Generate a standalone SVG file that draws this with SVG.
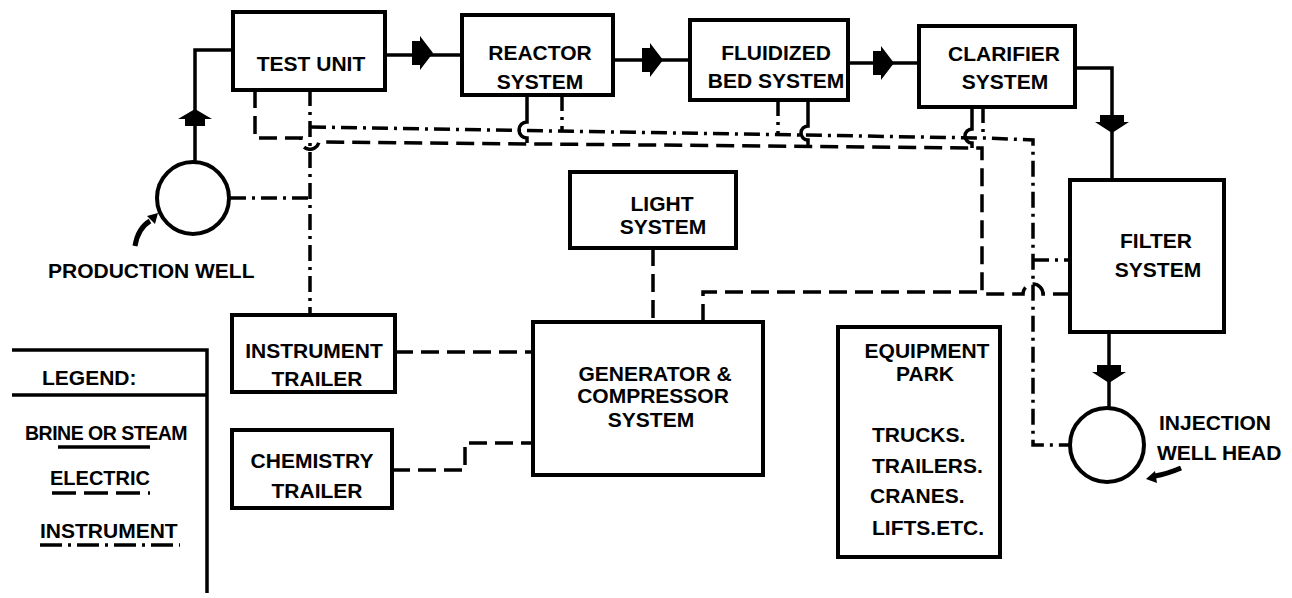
<svg xmlns="http://www.w3.org/2000/svg" xmlns:xlink="http://www.w3.org/1999/xlink" width="1292" height="598" viewBox="0 0 1292 598">
<style>
.box{fill:#fff;stroke:#000;stroke-width:4}
.well{fill:#fff;stroke:#000;stroke-width:4}
.flow{fill:none;stroke:#000;stroke-width:3.5}
.elec{fill:none;stroke:#000;stroke-width:3.5;stroke-dasharray:18 8}
.inst{fill:none;stroke:#000;stroke-width:3.5;stroke-dasharray:16 6 3 6}
.solid{fill:none;stroke:#000;stroke-width:3.5}
.t{font-family:"Liberation Sans",Arial,sans-serif;font-weight:bold;font-size:21px;text-anchor:middle;fill:#000}
.tl{font-family:"Liberation Sans",Arial,sans-serif;font-weight:bold;font-size:21px;text-anchor:start;fill:#000}
</style>
<defs>
<path id="arrR" d="M-8,-12 H0 V-17 L13,0 L0,17 V12 H-8 Z" fill="#000"/>
<path id="arrD" d="M-12,-7 H12 V0 H17 L0,11 L-17,0 H-12 Z" fill="#000"/>
<path id="arrU" d="M-10,8 H10 V1 H17 L0,-9 L-17,1 H-10 Z" fill="#000"/>
</defs>
<rect width="1292" height="598" fill="#fff"/>

<g id="connectors">
  <!-- brine / steam flow -->
  <path class="flow" d="M195,162 V50 H233"/>
  <path class="flow" d="M385,55 H462"/>
  <path class="flow" d="M613,60 H690"/>
  <path class="flow" d="M848,63 H919"/>
  <path class="flow" d="M1075,68 H1112 V180"/>
  <path class="flow" d="M1109,332 V408"/>
  <use xlink:href="#arrU" transform="translate(195,118)"/>
  <use xlink:href="#arrR" transform="translate(420,53)"/>
  <use xlink:href="#arrR" transform="translate(650,60)"/>
  <use xlink:href="#arrR" transform="translate(881,63)"/>
  <use xlink:href="#arrD" transform="translate(1112,122)"/>
  <use xlink:href="#arrD" transform="translate(1109,372)"/>

  <!-- electric -->
  <path class="elec" d="M255,90 V138 H301 A9,9 0 0 0 319,142 L982,148 V294 H1023 A10,10 0 0 1 1043,294 H1070"/>
  <path class="solid" d="M527,95 V122 A8,8 0 0 0 527,138 V143"/>
  <path class="solid" d="M808,100 V126 A7,7 0 0 0 808,140 V147"/>
  <path class="solid" d="M972,107 V129 A7,7 0 0 0 972,143 V148"/>
  <path class="elec" d="M703,322 V292 H982"/>
  <path class="elec" d="M653,248 V322"/>
  <path class="elec" d="M395,352 H533"/>
  <path class="elec" d="M392,470 H465 V443 H533"/>

  <!-- instrument -->
  <path class="inst" d="M310,90 V315"/>
  <path class="inst" d="M230,198 H310"/>
  <path class="inst" d="M310,127 L983,138 L1033,140 V445 H1070"/>
  <path class="inst" d="M1033,260 H1070"/>
  <path class="inst" d="M562,95 V130"/>
  <path class="inst" d="M778,100 V135"/>
  <path class="inst" d="M983,107 V138"/>

  <!-- pointer arrows -->
  <path d="M135,246 Q138,228 150,221" fill="none" stroke="#000" stroke-width="5"/>
  <polygon points="158,213 155,224 147,216" fill="#000"/>
  <path d="M1181,468 Q1167,474 1155,476" fill="none" stroke="#000" stroke-width="5"/>
  <polygon points="1146,479 1157,483 1155,471" fill="#000"/>
</g>

<g id="test-unit">
  <rect class="box" x="233" y="12" width="152" height="78"/>
  <text class="t" x="311" y="71">TEST UNIT</text>
</g>
<g id="reactor-system">
  <rect class="box" x="462" y="15" width="151" height="80"/>
  <text class="t" x="540" y="60">REACTOR</text>
  <text class="t" x="540" y="89">SYSTEM</text>
</g>
<g id="fluidized-bed-system">
  <rect class="box" x="690" y="20" width="158" height="80"/>
  <text class="t" x="776" y="60">FLUIDIZED</text>
  <text class="t" x="776" y="88">BED SYSTEM</text>
</g>
<g id="clarifier-system">
  <rect class="box" x="919" y="26" width="156" height="81"/>
  <text class="t" x="1004" y="61">CLARIFIER</text>
  <text class="t" x="1005" y="89">SYSTEM</text>
</g>
<g id="filter-system">
  <rect class="box" x="1070" y="180" width="154" height="152"/>
  <text class="t" x="1156" y="248">FILTER</text>
  <text class="t" x="1158" y="277">SYSTEM</text>
</g>
<g id="production-well">
  <circle class="well" cx="193" cy="198" r="36"/>
  <text class="tl" x="48" y="278">PRODUCTION WELL</text>
</g>
<g id="injection-well-head">
  <circle class="well" cx="1107" cy="445" r="37"/>
  <text class="tl" x="1159" y="430">INJECTION</text>
  <text class="tl" x="1157" y="460">WELL HEAD</text>
</g>
<g id="light-system">
  <rect class="box" x="570" y="172" width="166" height="76"/>
  <text class="t" x="662" y="211">LIGHT</text>
  <text class="t" x="663" y="234">SYSTEM</text>
</g>
<g id="generator-compressor-system">
  <rect class="box" x="533" y="322" width="230" height="153"/>
  <text class="t" x="655" y="381">GENERATOR &amp;</text>
  <text class="t" x="653" y="403">COMPRESSOR</text>
  <text class="t" x="651" y="427">SYSTEM</text>
</g>
<g id="instrument-trailer">
  <rect class="box" x="232" y="315" width="163" height="77"/>
  <text class="t" x="314" y="358">INSTRUMENT</text>
  <text class="t" x="317" y="386">TRAILER</text>
</g>
<g id="chemistry-trailer">
  <rect class="box" x="232" y="430" width="160" height="78"/>
  <text class="t" x="312" y="468">CHEMISTRY</text>
  <text class="t" x="317" y="498">TRAILER</text>
</g>
<g id="equipment-park">
  <rect class="box" x="838" y="327" width="162" height="230"/>
  <text class="t" x="927" y="358">EQUIPMENT</text>
  <text class="t" x="925" y="381">PARK</text>
  <text class="tl" x="872" y="442">TRUCKS.</text>
  <text class="tl" x="872" y="473">TRAILERS.</text>
  <text class="tl" x="870" y="503">CRANES.</text>
  <text class="tl" x="872" y="535">LIFTS.ETC.</text>
</g>
<g id="legend">
  <path class="solid" d="M12,350 H207 V593"/>
  <path class="solid" d="M12,395 H207"/>
  <text class="tl" x="42" y="385">LEGEND:</text>
  <text class="tl" x="25" y="440" style="font-size:19.5px;letter-spacing:-0.5px">BRINE OR STEAM</text>
  <path class="solid" d="M58,447 H150"/>
  <text class="tl" x="50" y="485" style="font-size:20px">ELECTRIC</text>
  <path class="elec" d="M52,493 H150" style="stroke-dasharray:24 8"/>
  <text class="tl" x="40" y="538">INSTRUMENT</text>
  <path class="inst" d="M40,545 H180" style="stroke-dasharray:22 6 3 6"/>
</g>
</svg>
